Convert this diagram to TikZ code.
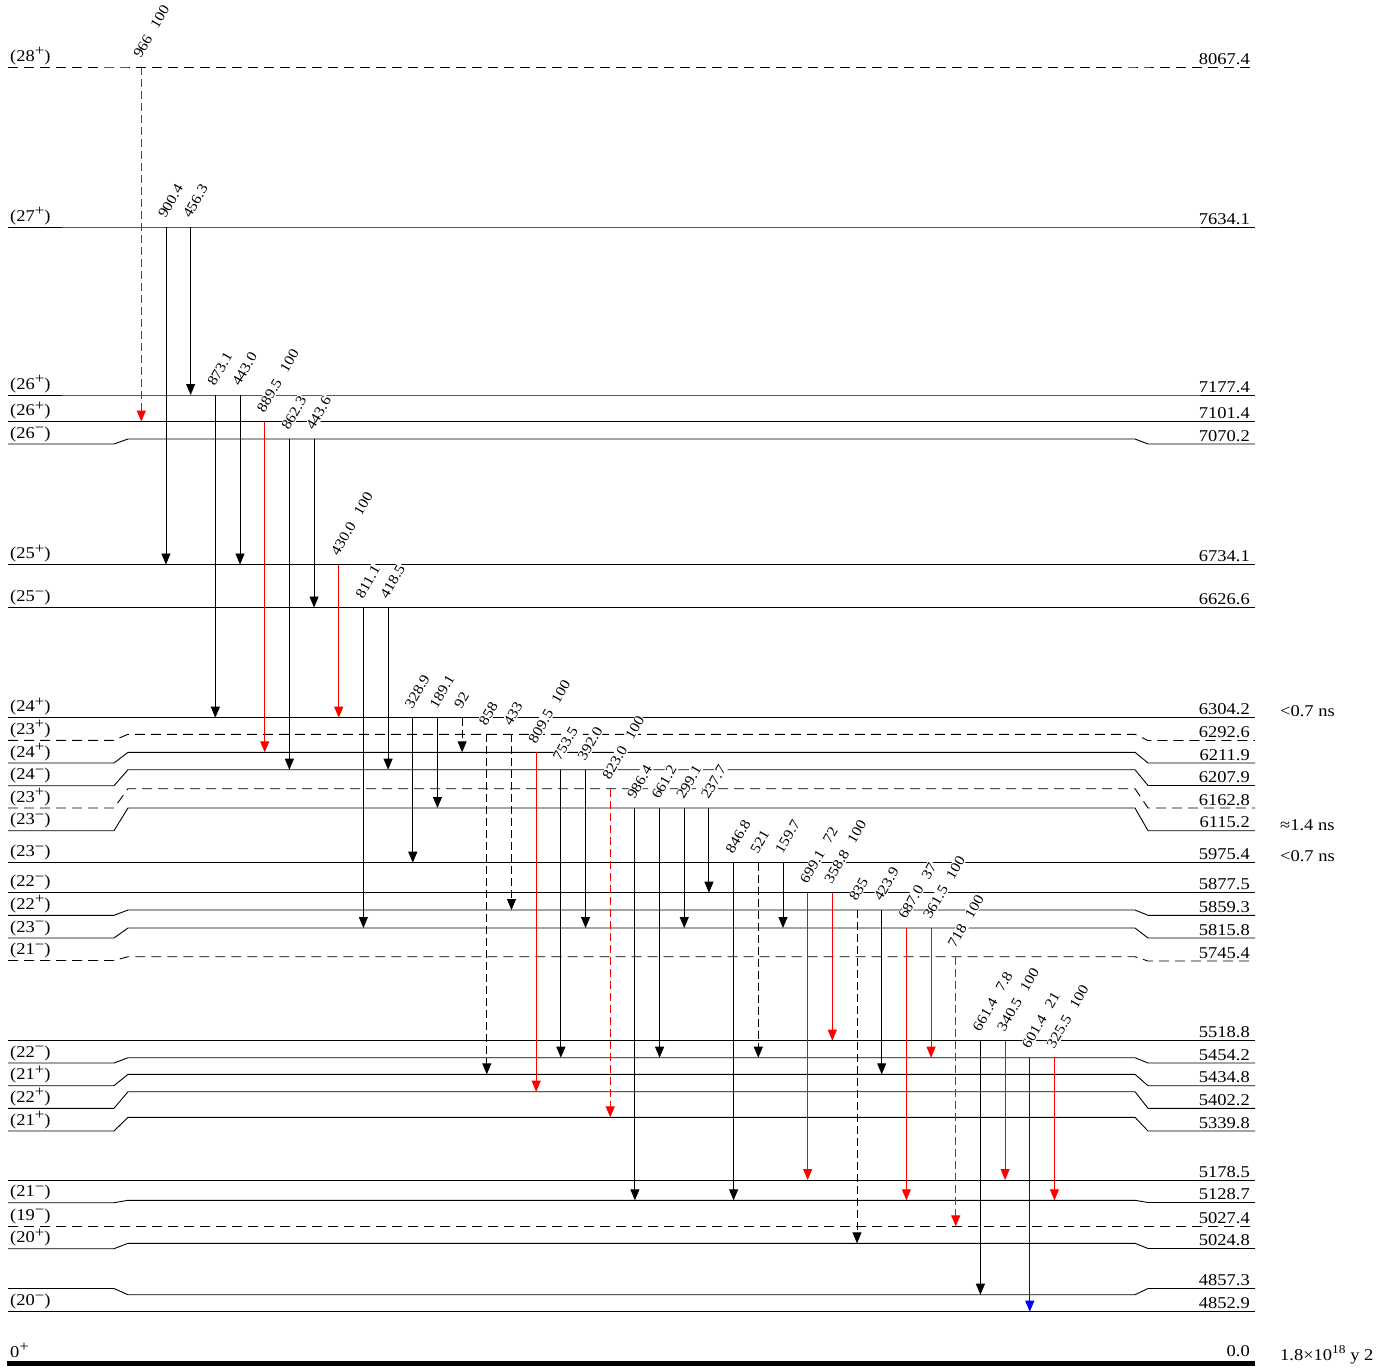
\documentclass[tikz,border=0pt]{standalone}
\usepackage{fontspec}
\setmainfont{Liberation Serif}[FakeStretch=1.12]
\usetikzlibrary{arrows.meta,calc}
\newcommand\lsfont{\fontsize{16.5}{18}\selectfont}
\newcommand\glfont{\fontsize{14.3}{15}\selectfont}
\newcommand\sups[2][12]{\raisebox{0.4em}{\fontsize{#1}{#1}\selectfont #2}}
\newcommand\pl{\raisebox{0.33em}{\fontsize{15}{15}\selectfont +}}
\newcommand\mi{\raisebox{0.33em}{\fontsize{15}{15}\selectfont −}}
\newcommand\gp{\hspace{0.7em}}
\newcommand\lvl[6]{% name, yl, ym, yr, style, energy
  \draw[#5] (8,#2) -- (114,#2) -- (128,#3) -- (1135,#3) -- (1148,#4) -- (1255,#4);
  \coordinate (#1) at (0,#3);
  \node[elab] (#1r) at (1250,#4-3) {#6};}
\newcommand\spn[3]{% name, yl, text
  \node[llab] (#1l) at (10,#2-6) {#3};}
\newcommand\gam[5]{% style, index, from, to, label
  \pgfmathsetmacro\gx{141.3+(#2-1)*24.68}
  \node[glab] (g#2) at ($(\gx,0 |- #3)+(-1,-7)$) {#5};
  \draw[#1] (\gx,0 |- #3) coordinate (s#2) -- (\gx,0 |- #4) coordinate (e#2);}
\begin{document}
\begin{tikzpicture}[x=1pt,y=-1pt,
  lev/.style={line width=0.9pt},
  levd/.style={lev,dash pattern=on 10pt off 6pt},
  gs/.style={line width=0.9pt,-{Triangle[length=11pt,width=9pt]}},
  gsd/.style={gs,dash pattern=on 8pt off 4pt},
  gred/.style={gs,red},
  gredd/.style={gsd,red,line width=1.3pt},
  gblue/.style={gs,blue},
  glab/.style={rotate=60,anchor=base west,font=\glfont,fill=white,inner sep=1pt},
  llab/.style={anchor=base west,font=\lsfont,inner sep=0pt},
  elab/.style={anchor=base east,font=\lsfont,inner sep=0pt},
  tlab/.style={anchor=base west,font=\lsfont,inner sep=0pt}]
\useasboundingbox (0,0) rectangle (1395,1368);
% levels
\lvl{L8067}{67}{67}{67}{levd}{8067.4}
\lvl{L7634}{227}{227}{227}{lev}{7634.1}
\lvl{L7177}{395}{395}{395}{lev}{7177.4}
\lvl{L7101}{421.5}{421.5}{421.5}{lev}{7101.4}
\lvl{L7070}{444}{439}{444}{lev}{7070.2}
\lvl{L6734}{564.5}{564.5}{564.5}{lev}{6734.1}
\lvl{L6626}{607.5}{607.5}{607.5}{lev}{6626.6}
\lvl{L6304}{717.7}{717.7}{717.7}{lev}{6304.2}
\lvl{L6292}{740.3}{734.3}{740.5}{levd}{6292.6}
\lvl{L6211}{763}{752.3}{763}{lev}{6211.9}
\lvl{L6207}{785.7}{769.7}{785.5}{lev}{6207.9}
\lvl{L6162}{808}{788.7}{808}{levd}{6162.8}
\lvl{L6115}{830.7}{808}{830.7}{lev}{6115.2}
\lvl{L5975}{862.7}{862.7}{862.7}{lev}{5975.4}
\lvl{L5877}{892.7}{892.7}{892.7}{lev}{5877.5}
\lvl{L5859}{915.3}{910}{915.3}{lev}{5859.3}
\lvl{L5815}{938}{928}{938}{lev}{5815.8}
\lvl{L5745}{960.5}{956.7}{961}{levd}{5745.4}
\lvl{L5518}{1040.7}{1040.7}{1040.7}{lev}{5518.8}
\lvl{L5454}{1063}{1057.7}{1063}{lev}{5454.2}
\lvl{L5434}{1085.7}{1074.3}{1085.7}{lev}{5434.8}
\lvl{L5402}{1108.3}{1091.7}{1108.3}{lev}{5402.2}
\lvl{L5339}{1131}{1117.3}{1131}{lev}{5339.8}
\lvl{L5178}{1180}{1180}{1180}{lev}{5178.5}
\lvl{L5128}{1202.7}{1200.3}{1202.5}{lev}{5128.7}
\lvl{L5027}{1226.3}{1226.3}{1226.3}{levd}{5027.4}
\lvl{L5024}{1248.7}{1243.3}{1248.5}{lev}{5024.8}
\lvl{L4857}{1288.5}{1294.7}{1288.5}{lev}{4857.3}
\lvl{L4852}{1311.7}{1311.7}{1311.7}{lev}{4852.9}
\draw[line width=5pt] (7,1363) -- (1255,1363) coordinate (L0);
\node[elab] (L0r) at (1250,1356) {0.0};
\node[llab] (L0l) at (10,1357) {0\pl};
% spins
\spn{L8067}{67}{(28\pl)}
\spn{L7634}{227}{(27\pl)}
\spn{L7177}{395}{(26\pl)}
\spn{L7101}{421.5}{(26\pl)}
\spn{L7070}{444}{(26\mi)}
\spn{L6734}{564.5}{(25\pl)}
\spn{L6626}{607.5}{(25\mi)}
\spn{L6304}{717.7}{(24\pl)}
\spn{L6292}{740.3}{(23\pl)}
\spn{L6211}{763}{(24\pl)}
\spn{L6207}{785.7}{(24\mi)}
\spn{L6162}{808}{(23\pl)}
\spn{L6115}{830.7}{(23\mi)}
\spn{L5975}{862.7}{(23\mi)}
\spn{L5877}{892.7}{(22\mi)}
\spn{L5859}{915.3}{(22\pl)}
\spn{L5815}{938}{(23\mi)}
\spn{L5745}{960.5}{(21\mi)}
\spn{L5454}{1063}{(22\mi)}
\spn{L5434}{1085.7}{(21\pl)}
\spn{L5402}{1108.3}{(22\pl)}
\spn{L5339}{1131}{(21\pl)}
\spn{L5128}{1202.7}{(21\mi)}
\spn{L5027}{1226.3}{(19\mi)}
\spn{L5024}{1248.7}{(20\pl)}
\spn{L4852}{1311.7}{(20\mi)}
% lifetimes
\node[tlab] (t1) at (1280,716) {<0.7 ns};
\node[tlab] (t2) at (1280,830) {≈1.4 ns};
\node[tlab] (t3) at (1280,861) {<0.7 ns};
\node[tlab] (t4) at (1280,1360) {1.8×10\sups{18} y 2};
% transitions
\gam{gredd}{1}{L8067}{L7101}{966\gp 100}
\gam{gs}{2}{L7634}{L6734}{900.4}
\gam{gs}{3}{L7634}{L7177}{456.3}
\gam{gs}{4}{L7177}{L6304}{873.1}
\gam{gs}{5}{L7177}{L6734}{443.0}
\gam{gred}{6}{L7101}{L6211}{889.5\gp 100}
\gam{gs}{7}{L7070}{L6207}{862.3}
\gam{gs}{8}{L7070}{L6626}{443.6}
\gam{gred}{9}{L6734}{L6304}{430.0\gp 100}
\gam{gs}{10}{L6626}{L5815}{811.1}
\gam{gs}{11}{L6626}{L6207}{418.5}
\gam{gs}{12}{L6304}{L5975}{328.9}
\gam{gs}{13}{L6304}{L6115}{189.1}
\gam{gsd}{14}{L6304}{L6211}{92}
\gam{gsd}{15}{L6292}{L5434}{858}
\gam{gsd}{16}{L6292}{L5859}{433}
\gam{gred}{17}{L6211}{L5402}{809.5\gp 100}
\gam{gs}{18}{L6207}{L5454}{753.5}
\gam{gs}{19}{L6207}{L5815}{392.0}
\gam{gredd}{20}{L6162}{L5339}{823.0\gp 100}
\gam{gs}{21}{L6115}{L5128}{986.4}
\gam{gs}{22}{L6115}{L5454}{661.2}
\gam{gs}{23}{L6115}{L5815}{299.1}
\gam{gs}{24}{L6115}{L5877}{237.7}
\gam{gs}{25}{L5975}{L5128}{846.8}
\gam{gsd}{26}{L5975}{L5454}{521}
\gam{gs}{27}{L5975}{L5815}{159.7}
\gam{gred}{28}{L5877}{L5178}{699.1\gp 72}
\gam{gred}{29}{L5877}{L5518}{358.8\gp 100}
\gam{gsd}{30}{L5859}{L5024}{835}
\gam{gs}{31}{L5859}{L5434}{423.9}
\gam{gred}{32}{L5815}{L5128}{687.0\gp 37}
\gam{gred}{33}{L5815}{L5454}{361.5\gp 100}
\gam{gredd}{34}{L5745}{L5027}{718\gp 100}
\gam{gs}{35}{L5518}{L4857}{661.4\gp 7.8}
\gam{gred}{36}{L5518}{L5178}{340.5\gp 100}
\gam{gblue}{37}{L5454}{L4852}{601.4\gp 21}
\gam{gred}{38}{L5454}{L5128}{325.5\gp 100}
\end{tikzpicture}
\end{document}
